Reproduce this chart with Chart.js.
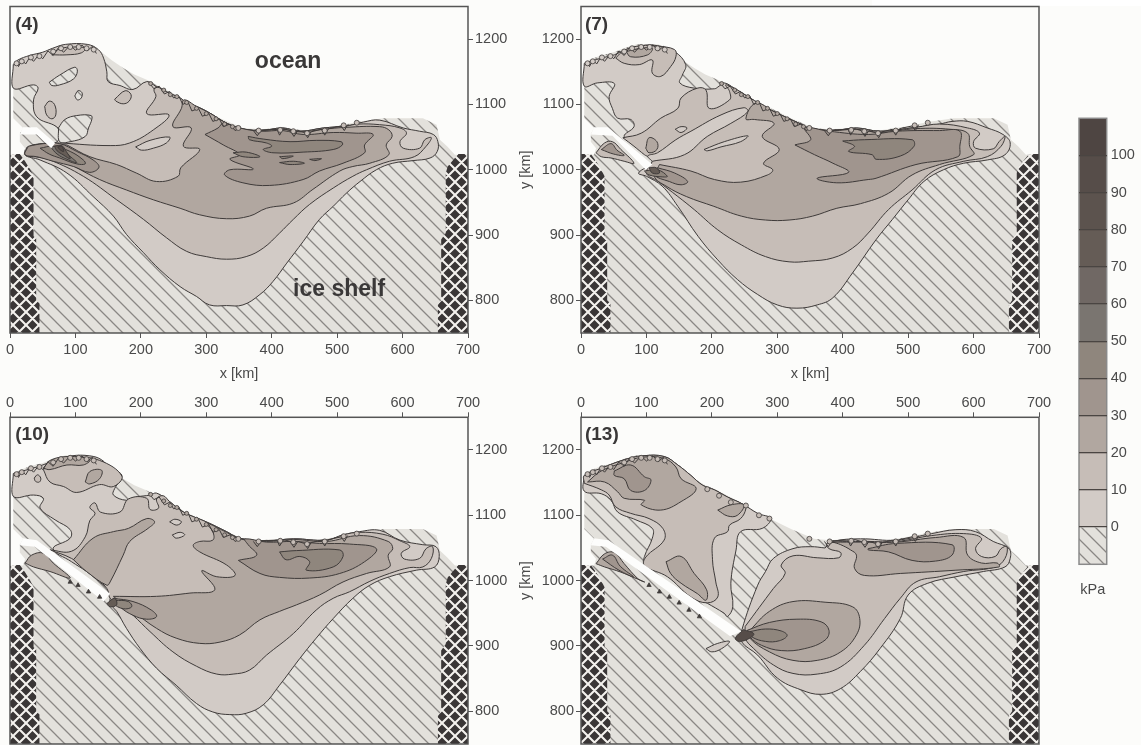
<!DOCTYPE html>
<html>
<head>
<meta charset="utf-8">
<title>kPa panels</title>
<script src="https://cdn.jsdelivr.net/npm/chart.js@4/dist/chart.umd.min.js"></script>
<style>
  html, body { margin: 0; padding: 0; background: #fcfcfa; overflow: hidden; }
  body { width: 1141px; height: 745px; position: relative; }
  canvas { position: absolute; }
  #strip { position: absolute; left: 872px; top: 0; width: 269px; height: 6px; background: #fff; }
</style>
</head>
<body>
<div id="strip"></div>
<canvas id="p1" width="540" height="390" style="left:0;top:0"></canvas>
<canvas id="p2" width="590" height="390" style="left:510px;top:0"></canvas>
<canvas id="p3" width="540" height="380" style="left:0;top:385px"></canvas>
<canvas id="p4" width="590" height="380" style="left:510px;top:385px"></canvas>
<canvas id="bar" width="81" height="520" style="left:1060px;top:100px"></canvas>
<script>
// axis ticks
const xTicks = [0, 100, 200, 300, 400, 500, 600, 700];
const yTicks = [800, 900, 1000, 1100, 1200];
const barTicks = [0, 10, 20, 30, 40, 50, 60, 70, 80, 90, 100];
const barEdges = [-10, 0, 10, 20, 30, 40, 50, 60, 70, 80, 90, 100, 110];
const bandColors = ['#d2cbc6', '#c6bdb7', '#b1a7a0', '#a0958e', '#8f867d', '#7a7570', '#706864', '#655c56', '#5c534e', '#564d49', '#4e4542'];

// shared outlines, [x km, y km]
const domain = [[5,1161],[12,1168],[30,1175],[50,1180],[65,1186],[85,1192],[118,1192],[135,1184],[155,1168],[173,1156],[190,1146],[209,1138],[228,1128],[249,1117],[268,1105],[285,1097],[303,1088],[321,1079],[340,1071],[356,1064],[380,1062],[417,1064],[455,1060],[494,1066],[535,1074],[570,1079],[631,1079],[652,1069],[657,1046],[668,1036],[680,1023],[700,1023],[700,750],[0,750],[0,1023],[20,1023],[23,1033],[15,1043],[15,1055],[20,1064],[5,1079]];
const crossLeft = [[0,1024],[15,1024],[23,1013],[31,1000],[36,990],[36,898],[40,895],[40,800],[45,795],[45,750],[0,750]];
const crossRight = [[700,1024],[685,1024],[669,1005],[666,995],[666,903],[659,893],[659,800],[654,793],[654,750],[700,750]];
const coastWest = [[10,1163],[18,1166],[32,1172],[45,1174],[66,1181],[78,1186],[92,1188],[105,1188],[117,1186],[128,1184]];
const coastMid = [[215,1132],[235,1122],[245,1115],[255,1112],[270,1103],[285,1094],[300,1086],[315,1078],[328,1070],[340,1066]];
const coastEast = [[349,1064],[380,1060],[413,1061],[433,1059],[454,1056],[481,1060],[510,1068],[530,1072]];
const coastMid13 = [[193,1140],[211,1130],[229,1120],[252,1115],[272,1100],[288,1095]];
// rough dark fringe along the shore
const jagWest = [[6,1160],[10,1166],[13,1158],[18,1168],[24,1162],[30,1172],[36,1166],[44,1176],[50,1170],[58,1182],[66,1175],[74,1187],[82,1180],[92,1191],[100,1183],[110,1191],[118,1182],[126,1189],[132,1178]];
const jagMid = [[212,1134],[220,1124],[228,1128],[236,1116],[244,1120],[250,1110],[258,1113],[264,1100],[272,1104],[278,1090],[288,1094],[294,1082],[304,1086],[310,1074],[320,1078],[326,1066],[336,1070],[344,1060],[352,1064]];
const jagEast = [[372,1060],[378,1052],[384,1061],[408,1062],[412,1053],[418,1063],[428,1060],[434,1051],[440,1060],[450,1057],[455,1049],[460,1058],[476,1062],[481,1053],[487,1063],[506,1067],[511,1060],[516,1069]];

// panel (4)
const a0 = [[5,1161],[12,1168],[30,1175],[50,1180],[65,1186],[85,1192],[118,1192],[135,1184],[143,1171],[148,1150],[150,1135],[168,1129],[188,1123],[209,1135],[224,1127],[244,1117],[260,1110],[270,1102],[285,1097],[305,1087],[326,1074],[349,1064],[382,1060],[417,1064],[443,1059],[479,1064],[514,1067],[540,1073],[565,1076],[601,1064],[626,1059],[647,1054],[654,1043],[653,1028],[642,1018],[616,1014],[585,1010],[560,1000],[535,982],[514,964],[494,944],[473,924],[448,890],[423,857],[402,829],[382,809],[356,793],[331,792],[305,793],[285,806],[260,821],[229,847],[204,873],[178,901],[158,929],[127,959],[87,995],[46,1015],[23,1023],[31,1036],[51,1040],[71,1042],[76,1056],[71,1066],[41,1081],[36,1107],[43,1125],[36,1130],[5,1125]];
const aHole1 = [[60,1134],[76,1145],[99,1157],[103,1151],[97,1139],[76,1130],[64,1129]];
const aHole2 = [[99,1113],[104,1121],[110,1118],[109,1110],[103,1107]];
const aHole3 = [[74,1064],[84,1077],[102,1083],[124,1083],[125,1077],[120,1064],[115,1051],[92,1043],[76,1043]];
const aIsle1 = [[53,1097],[60,1105],[68,1100],[70,1084],[64,1078],[56,1084]];
const aIsle2 = [[160,1108],[176,1121],[185,1115],[182,1105],[173,1101],[162,1105]];
const aTop = [[64,1176],[76,1185],[97,1188],[115,1186],[109,1179],[87,1176]];
const a10 = [[76,1041],[153,1037],[183,1041],[219,1061],[243,1084],[209,1086],[223,1112],[220,1122],[224,1127],[244,1117],[260,1110],[270,1102],[285,1097],[305,1087],[326,1074],[349,1064],[382,1060],[417,1064],[443,1059],[479,1064],[514,1067],[532,1070],[565,1069],[596,1064],[606,1056],[596,1043],[601,1033],[626,1033],[634,1046],[644,1049],[636,1036],[618,1020],[580,1013],[545,1000],[524,990],[494,972],[458,947],[433,924],[412,903],[387,880],[361,867],[331,863],[300,867],[270,875],[239,896],[204,924],[163,954],[112,990],[61,1015],[31,1023],[25,1033],[31,1036],[51,1040]];
const aLens = [[192,1035],[214,1045],[244,1050],[239,1041],[219,1033],[201,1030]];
const a20 = [[87,1038],[122,1020],[163,1008],[193,995],[224,982],[257,990],[261,1003],[290,1031],[265,1036],[277,1064],[249,1066],[262,1094],[266,1107],[285,1097],[305,1087],[326,1074],[349,1064],[382,1060],[417,1062],[443,1058],[479,1062],[514,1065],[565,1066],[579,1061],[584,1051],[575,1038],[579,1023],[550,1010],[524,1005],[504,998],[463,970],[433,949],[392,941],[366,929],[331,925],[290,931],[260,941],[219,954],[178,969],[137,985],[102,1003],[71,1020],[36,1020],[23,1023],[28,1035],[51,1039]];
const a30 = [[298,1054],[318,1064],[326,1071],[351,1064],[382,1059],[417,1060],[448,1054],[494,1057],[529,1056],[555,1054],[542,1038],[542,1026],[509,1010],[473,998],[448,985],[397,976],[356,980],[328,992],[336,1000],[372,1001],[336,1016],[351,1023],[326,1038]];
const a40 = [[364,1051],[387,1047],[428,1043],[468,1045],[506,1043],[508,1038],[494,1031],[448,1027],[402,1026],[387,1031],[400,1036],[392,1041],[366,1046]];
const aSlit1 = [[412,1020],[433,1021],[417,1017]];
const aSlit2 = [[412,1011],[433,1013],[450,1010],[428,1008]];
const aSlit3 = [[458,1016],[476,1017],[466,1014]];
const aSlit4 = [[341,1026],[361,1027],[382,1020],[356,1020]];
const aFan30 = [[28,1036],[51,1040],[76,1040],[102,1028],[127,1015],[136,1004],[122,996],[97,1005],[66,1013],[41,1020],[23,1023]];
const aFan40 = [[46,1033],[66,1036],[92,1028],[112,1015],[115,1009],[102,1009],[76,1018],[60,1024]];
const aFan50 = [[62,1035],[76,1036],[89,1023],[102,1011],[87,1016],[72,1024]];
const aFan60 = [[68,1036],[79,1037],[86,1028],[92,1017],[81,1023],[72,1029]];
const aFan80 = [[73,1035],[79,1036],[82,1028],[76,1031]];
const aRift = [[20,1065],[41,1065],[69,1041],[63,1033],[41,1054],[15,1054]];

// panel (7)
const b0 = [[5,1163],[31,1171],[51,1176],[66,1183],[92,1190],[117,1190],[143,1181],[160,1161],[155,1145],[151,1133],[173,1125],[204,1124],[211,1128],[219,1133],[234,1125],[255,1112],[275,1100],[295,1089],[316,1079],[338,1069],[348,1064],[385,1060],[421,1064],[457,1059],[512,1065],[548,1070],[567,1074],[591,1074],[621,1064],[645,1054],[656,1041],[648,1023],[621,1015],[585,1010],[554,1000],[524,982],[500,954],[476,924],[451,893],[415,842],[385,804],[361,793],[330,788],[300,793],[270,809],[239,832],[209,862],[179,898],[148,944],[124,975],[100,990],[88,995],[109,1012],[97,1026],[87,1036],[66,1051],[81,1066],[76,1077],[56,1079],[48,1094],[43,1112],[51,1132],[25,1133],[5,1128]];
const bTop10 = [[53,1171],[66,1163],[89,1161],[109,1168],[109,1148],[122,1143],[137,1158],[145,1173],[143,1184],[117,1189],[92,1190],[66,1183]];
const bTop20 = [[69,1181],[92,1186],[109,1186],[102,1176],[76,1173]];
const b10 = [[64,1049],[92,1056],[122,1079],[148,1094],[153,1110],[178,1125],[191,1122],[196,1094],[227,1107],[227,1120],[221,1130],[234,1125],[255,1112],[275,1100],[295,1089],[316,1079],[338,1069],[348,1064],[385,1060],[421,1064],[457,1059],[512,1065],[548,1070],[591,1064],[609,1056],[600,1043],[603,1033],[630,1032],[639,1043],[648,1051],[642,1036],[621,1020],[585,1013],[542,1000],[506,969],[470,939],[439,903],[415,880],[385,865],[348,860],[318,859],[282,867],[245,885],[209,908],[173,939],[148,959],[118,982],[100,995],[109,1015],[97,1023],[81,1036]];
const bTongue = [[109,1013],[158,1023],[193,1051],[229,1071],[255,1089],[249,1095],[214,1084],[168,1059],[145,1046],[117,1026],[102,1021]];
const bIsle1 = [[144,1062],[153,1066],[162,1064],[153,1057]];
const bIsle2 = [[99,1033],[104,1049],[116,1043],[116,1031],[104,1026]];
const bLens = [[188,1031],[219,1043],[255,1052],[244,1043],[214,1035],[193,1029]];
const b20 = [[120,1008],[168,998],[204,985],[244,981],[285,992],[293,1000],[279,1010],[303,1031],[277,1051],[295,1071],[265,1077],[252,1078],[267,1102],[295,1089],[316,1079],[338,1069],[348,1064],[385,1060],[421,1062],[457,1057],[512,1063],[564,1062],[591,1056],[594,1036],[600,1023],[548,1008],[506,992],[470,964],[427,948],[391,941],[354,929],[318,923],[282,923],[245,929],[203,944],[161,959],[130,975],[112,990]];
const b30 = [[327,1038],[351,1046],[342,1064],[379,1059],[439,1054],[482,1059],[548,1060],[579,1059],[579,1036],[576,1020],[512,1008],[451,987],[439,985],[391,980],[361,987],[409,996],[385,1010],[357,1023]];
const b40 = [[400,1044],[433,1046],[506,1046],[509,1036],[488,1021],[451,1016],[445,1023],[409,1028],[418,1036]];
const bLobe = [[23,1026],[36,1041],[48,1043],[61,1031],[81,1010],[66,1013],[46,1018],[31,1020]];
const bLobe30 = [[31,1031],[46,1040],[55,1030],[66,1022],[50,1024]];
const bFan30 = [[117,1003],[143,995],[163,982],[153,977],[135,982],[112,992]];
const bFan40 = [[97,998],[117,1000],[132,990],[125,989],[104,992]];
const bFan70 = [[104,1003],[115,1003],[120,995],[109,995]];
const bRift = [[20,1065],[41,1065],[109,1008],[99,1000],[48,1052],[15,1054]];

// panel (10)
const c0 = [[5,1164],[41,1174],[69,1184],[94,1191],[122,1191],[140,1185],[153,1172],[171,1161],[160,1141],[158,1131],[178,1123],[193,1128],[214,1131],[224,1134],[244,1121],[265,1105],[300,1090],[331,1075],[351,1065],[392,1061],[433,1064],[484,1062],[509,1070],[534,1075],[565,1077],[596,1062],[631,1055],[651,1052],[656,1037],[649,1021],[621,1016],[580,1006],[550,993],[524,973],[494,942],[468,912],[443,881],[412,840],[387,810],[361,797],[336,795],[310,799],[285,812],[254,840],[224,866],[199,896],[178,927],[163,953],[153,965],[153,982],[137,998],[117,1014],[94,1029],[66,1049],[92,1065],[92,1078],[69,1093],[46,1111],[51,1126],[36,1131],[5,1129]];
const cTop10 = [[51,1170],[61,1151],[82,1144],[102,1135],[137,1147],[158,1144],[171,1160],[137,1184],[94,1189],[69,1183]];
const cTop20 = [[51,1172],[63,1185],[94,1190],[122,1185],[112,1177],[87,1177],[61,1170]];
const cBlob = [[115,1151],[122,1167],[140,1169],[137,1156],[122,1148]];
const cDot = [[37,1157],[42,1162],[47,1157],[45,1151],[39,1152]];
const c10 = [[61,1047],[94,1045],[115,1067],[122,1092],[130,1103],[122,1112],[130,1119],[138,1105],[168,1105],[181,1125],[209,1126],[214,1109],[227,1111],[224,1125],[234,1130],[244,1121],[265,1105],[300,1090],[331,1075],[351,1065],[392,1061],[433,1064],[484,1062],[509,1070],[534,1074],[570,1071],[596,1061],[611,1052],[598,1042],[603,1033],[626,1034],[636,1049],[646,1052],[644,1034],[631,1021],[611,1020],[580,1011],[550,999],[519,983],[494,973],[468,955],[433,919],[392,886],[366,863],[341,857],[316,857],[285,869],[249,891],[214,922],[188,947],[163,968],[153,973],[148,988],[122,1014],[94,1034]];
const cIsle1 = [[244,1090],[252,1094],[262,1090],[255,1085]];
const cIsle2 = [[248,1070],[260,1074],[267,1070],[254,1065]];
const c20 = [[158,976],[224,976],[275,981],[313,986],[293,1015],[316,1006],[344,1008],[331,1024],[290,1044],[280,1054],[290,1060],[310,1062],[310,1075],[300,1088],[331,1074],[351,1064],[392,1060],[433,1063],[484,1060],[534,1069],[578,1060],[585,1049],[578,1039],[580,1021],[545,1011],[509,998],[473,978],[438,963],[412,953],[382,940],[351,917],[321,906],[290,904],[254,912],[224,927],[188,953],[168,968]];
const cTongue = [[97,1032],[127,1065],[158,1075],[181,1080],[209,1095],[221,1090],[211,1080],[183,1060],[173,1039],[153,998],[148,993],[117,1014]];
const c30 = [[349,1031],[377,1039],[364,1055],[359,1064],[392,1059],[433,1060],[473,1057],[519,1056],[560,1049],[542,1029],[504,1011],[458,1004],[412,1005],[382,1011]];
const c40 = [[412,1044],[438,1046],[504,1047],[509,1037],[494,1021],[453,1016],[458,1029],[443,1037],[422,1032]];
const cLobe = [[23,1027],[33,1039],[51,1042],[66,1027],[92,1004],[61,1014],[36,1021]];
const cFan30 = [[158,973],[188,968],[216,955],[224,945],[209,941],[188,947],[168,960]];
const cFan40 = [[160,970],[181,968],[186,960],[173,957],[158,965]];
const cFan70 = [[148,965],[160,973],[163,963],[153,960]];
const cRift = [[20,1065],[41,1062],[153,980],[143,968],[38,1052],[15,1054]];
const cMarks = [[92,998],[104,993],[120,983],[137,975]];

// panel (13)
const dWest0 = [[5,1161],[31,1172],[66,1185],[94,1191],[127,1190],[148,1177],[168,1161],[186,1146],[204,1139],[224,1128],[249,1116],[270,1103],[290,1095],[277,1080],[244,1075],[237,1047],[229,996],[232,960],[224,945],[219,950],[168,981],[132,1011],[97,1026],[97,1037],[109,1065],[109,1080],[84,1093],[56,1105],[46,1123],[31,1133],[5,1137]];
const dWest10 = [[5,1149],[31,1139],[43,1131],[53,1113],[76,1103],[104,1095],[125,1080],[127,1062],[99,1036],[97,1023],[132,1006],[168,975],[193,966],[209,975],[206,998],[201,1032],[204,1065],[224,1075],[227,1085],[244,1095],[252,1110],[249,1116],[224,1128],[204,1139],[186,1146],[168,1161],[148,1177],[127,1190],[94,1191],[66,1185],[31,1172],[5,1161]];
const dWest20 = [[10,1151],[36,1151],[56,1136],[66,1126],[97,1123],[92,1116],[122,1108],[153,1121],[176,1141],[153,1156],[145,1174],[127,1187],[94,1189],[66,1181],[31,1168]];
const dWest30 = [[51,1168],[76,1177],[97,1159],[107,1154],[97,1138],[76,1138],[66,1156],[51,1161]];
const dBlob = [[130,1029],[153,1037],[173,1011],[192,986],[191,970],[178,980],[153,996],[137,1011]];
const dBlob2 = [[209,1108],[229,1116],[249,1116],[239,1100],[224,1099]];
const dEast0 = [[373,1050],[385,1060],[427,1064],[482,1062],[536,1072],[573,1078],[603,1075],[630,1060],[654,1049],[656,1034],[648,1021],[615,1014],[573,1006],[530,996],[500,978],[488,942],[457,896],[427,861],[397,835],[367,826],[336,833],[300,851],[270,886],[245,907],[246,925],[270,993],[282,1014],[294,1034],[324,1049],[351,1052]];
const dEast10 = [[251,930],[294,988],[312,1011],[306,1024],[324,1038],[361,1035],[394,1035],[397,1043],[379,1049],[376,1057],[427,1060],[482,1060],[536,1069],[585,1072],[612,1065],[603,1049],[612,1037],[633,1037],[642,1049],[651,1052],[648,1034],[633,1021],[585,1014],[548,1006],[512,998],[488,973],[464,942],[433,901],[397,868],[361,857],[324,858],[294,871],[264,896],[251,912]];
const dEast20 = [[385,1059],[427,1059],[482,1059],[542,1066],[585,1066],[591,1039],[612,1027],[636,1027],[639,1021],[573,1016],[488,1011],[433,1008],[418,1019],[421,1039],[412,1047],[397,1055]];
const dEast30 = [[439,1049],[482,1057],[567,1055],[567,1039],[542,1030],[506,1031],[470,1044],[439,1047]];
const dFan20 = [[258,924],[288,953],[324,968],[373,967],[415,960],[426,942],[421,917],[397,891],[361,878],[324,878],[288,891],[258,912]];
const dFan30 = [[254,924],[288,936],[330,941],[367,937],[379,924],[373,909],[342,896],[306,893],[276,901],[258,914]];
const dFan40 = [[258,922],[282,926],[306,923],[315,916],[303,908],[282,907],[261,914]];
const dFan90 = [[248,925],[264,919],[258,912],[242,907],[236,912]];
const dLens = [[191,896],[209,904],[227,907],[215,896],[200,891]];
const dLobe = [[23,1026],[36,1041],[51,1043],[66,1026],[87,1003],[97,998],[61,1013],[36,1021]];
const dLobe30 = [[33,1033],[48,1039],[60,1022],[80,1006],[58,1016]];
const dRift = [[20,1065],[42,1062],[245,922],[228,915],[38,1052],[15,1054]];
const dMarks = [[104,993],[120,983],[135,975],[150,966],[165,955],[181,945]];

// canvas fills
function tile(size, bg, line, width, both) {
  const t = document.createElement('canvas');
  t.width = t.height = size;
  const c = t.getContext('2d');
  c.fillStyle = bg;
  c.fillRect(0, 0, size, size);
  c.strokeStyle = line;
  c.lineWidth = width;
  c.beginPath();
  c.moveTo(-size, -size); c.lineTo(size * 2, size * 2);
  c.moveTo(-size, 0); c.lineTo(size, size * 2);
  c.moveTo(0, -size); c.lineTo(size * 2, size);
  if (both) {
    c.moveTo(size * 2, -size); c.lineTo(-size, size * 2);
    c.moveTo(size, -size); c.lineTo(-size, size);
    c.moveTo(size * 2, 0); c.lineTo(0, size * 2);
  }
  c.stroke();
  return c.createPattern(t, 'repeat');
}
const hatch = tile(14, '#e3e1dc', '#8a8784', 1.3, false);
const cross = tile(13, '#3a3636', '#f4f2ee', 2.1, true);

const lineColor = '#3f3b3a';
const toXY = pts => pts.map(p => ({ x: p[0], y: p[1] }));

function shape(pts, fill, opts) {
  const closed = pts.concat([pts[0]]);
  return Object.assign({
    data: toXY(closed),
    backgroundColor: fill,
    borderColor: lineColor,
    borderWidth: 1,
    fill: 'shape',
    tension: 0.4,
    pointRadius: 0
  }, opts || {});
}
const flat = { tension: 0, borderWidth: 0 };
const band = i => bandColors[i];

function marks(pts, color, style, size) {
  return {
    data: toXY(pts),
    showLine: false,
    pointStyle: style,
    pointRadius: size,
    pointBackgroundColor: color,
    pointBorderColor: lineColor,
    pointBorderWidth: 0.8
  };
}
function fringe(pts) {
  return { data: toXY(pts), borderColor: lineColor, borderWidth: 1, fill: false, tension: 0, pointRadius: 0 };
}

function base() {
  return [shape(domain, hatch, flat)];
}
function finish(rift) {
  return [
    shape(rift, '#fdfdfc', flat),
    shape(crossLeft, cross, flat),
    shape(crossRight, cross, flat)
  ];
}

const layers4 = base().concat([
  shape(a0, band(0)), shape(aHole1, hatch), shape(aHole2, hatch), shape(aHole3, hatch),
  shape(aIsle1, band(1)), shape(aIsle2, band(1)), shape(aTop, band(1)),
  shape(a10, band(1)), shape(aLens, band(0)), shape(a20, band(2)),
  shape(a30, band(3)), shape(a40, band(4)),
  shape(aSlit1, band(4)), shape(aSlit2, band(4)), shape(aSlit3, band(4)), shape(aSlit4, band(4)),
  shape(aFan30, band(3)), shape(aFan40, band(4)), shape(aFan50, band(5)), shape(aFan60, band(7)), shape(aFan80, band(9))
], finish(aRift), [
  fringe(jagWest), fringe(jagMid), fringe(jagEast),
  marks(coastWest, band(0), 'circle', 2.5), marks(coastMid, band(2), 'circle', 2), marks(coastEast, band(1), 'circle', 2.5)
]);

const layers7 = base().concat([
  shape(b0, band(0)), shape(bTop10, band(1)), shape(bTop20, band(2)),
  shape(b10, band(1)), shape(bTongue, band(0)), shape(bIsle1, band(0)), shape(bIsle2, band(2)), shape(bLens, band(0)),
  shape(b20, band(2)), shape(b30, band(3)), shape(b40, band(4)),
  shape(bLobe, band(1)), shape(bLobe30, band(3)),
  shape(bFan30, band(3)), shape(bFan40, band(4)), shape(bFan70, band(7))
], finish(bRift), [
  fringe(jagWest), fringe(jagMid), fringe(jagEast),
  marks(coastWest, band(0), 'circle', 2.5), marks(coastMid, band(2), 'circle', 2), marks(coastEast, band(1), 'circle', 2.5)
]);

const layers10 = base().concat([
  shape(c0, band(0)), shape(cTop10, band(1)), shape(cTop20, band(2)), shape(cBlob, band(2)), shape(cDot, band(1)),
  shape(c10, band(1)), shape(cIsle1, band(0)), shape(cIsle2, band(0)),
  shape(c20, band(2)), shape(cTongue, band(2)), shape(c30, band(3)), shape(c40, band(4)),
  shape(cLobe, band(2)),
  shape(cFan30, band(3)), shape(cFan40, band(4)), shape(cFan70, band(7))
], finish(cRift), [
  fringe(jagWest), fringe(jagMid), fringe(jagEast),
  marks(cMarks, lineColor, 'triangle', 2.5),
  marks(coastWest, band(1), 'circle', 2.5), marks(coastMid, band(2), 'circle', 2), marks(coastEast, band(1), 'circle', 2.5)
]);

const layers13 = base().concat([
  shape(dWest0, band(0)), shape(dWest10, band(1)), shape(dWest20, band(2)), shape(dWest30, band(3)),
  shape(dBlob, band(2)), shape(dBlob2, band(2)),
  shape(dEast0, band(0)), shape(dEast10, band(1)), shape(dEast20, band(2)), shape(dEast30, band(3)),
  shape(dFan20, band(2)), shape(dFan30, band(3)), shape(dFan40, band(4)), shape(dFan90, band(9)),
  shape(dLens, band(0)), shape(dLobe, band(2)), shape(dLobe30, band(3))
], finish(dRift), [
  fringe(jagWest), fringe(jagEast),
  marks(dMarks, lineColor, 'triangle', 2.5),
  marks(coastWest, band(1), 'circle', 2.5), marks(coastMid13, band(1), 'circle', 2.5), marks(coastEast, band(1), 'circle', 2.5)
]);

const tickFont = { family: 'Liberation Sans', size: 14.5 };
const tickColor = '#4a4a4a';
const axisLine = '#555555';
const plain = v => String(v);

// frame and in-plot text
const framePlugin = (notes, color) => ({
  id: 'frame',
  afterDatasetsDraw(chart) {
    const { ctx, chartArea: a, scales } = chart;
    ctx.save();
    ctx.strokeStyle = color || axisLine;
    ctx.lineWidth = 1.5;
    ctx.strokeRect(a.left, a.top, a.right - a.left, a.bottom - a.top);
    (notes || []).forEach(n => {
      ctx.font = 'bold ' + n.size + 'px "Liberation Sans"';
      ctx.fillStyle = '#3a3838';
      ctx.textAlign = n.align;
      ctx.textBaseline = 'middle';
      ctx.fillText(n.text, scales.x.getPixelForValue(n.x), scales.y.getPixelForValue(n.y));
    });
    ctx.restore();
  }
});

function panel(id, layers, cfg) {
  layers.forEach((d, i) => { d.order = layers.length - i; });
  new Chart(document.getElementById(id), {
    type: 'line',
    data: { datasets: layers },
    plugins: [framePlugin(cfg.notes)],
    options: {
      responsive: false,
      animation: false,
      events: [],
      layout: { padding: cfg.padding },
      plugins: { legend: { display: false }, tooltip: { enabled: false } },
      scales: {
        x: {
          type: 'linear', position: cfg.xPos, min: 0, max: 700,
          afterBuildTicks: s => { s.ticks = xTicks.map(v => ({ value: v })); },
          afterFit: s => { s.height = cfg.xSize; s.paddingLeft = 0; s.paddingRight = 0; },
          grid: { drawOnChartArea: false, tickLength: 5, color: axisLine },
          border: { display: false },
          ticks: { color: tickColor, font: tickFont, padding: cfg.xPad, maxRotation: 0, autoSkip: false, callback: plain },
          title: { display: cfg.xTitle, text: 'x [km]', color: tickColor, font: tickFont, padding: 0 }
        },
        y: {
          type: 'linear', position: cfg.yPos, min: 750, max: 1250,
          afterBuildTicks: s => { s.ticks = yTicks.map(v => ({ value: v })); },
          afterFit: s => { s.width = cfg.ySize; s.paddingTop = 0; s.paddingBottom = 0; },
          grid: { drawOnChartArea: false, tickLength: 5, color: axisLine },
          border: { display: false },
          ticks: { color: tickColor, font: tickFont, padding: 2, autoSkip: false, callback: plain },
          title: { display: cfg.yTitle, text: 'y [km]', color: tickColor, font: tickFont, padding: 0 }
        }
      }
    }
  });
}

panel('p1', layers4, {
  padding: { left: 10, right: 12, top: 6.5, bottom: 7 }, xPos: 'bottom', yPos: 'right', xSize: 50, ySize: 60, xPad: 3, xTitle: true, yTitle: false,
  notes: [
    { text: '(4)', x: 8, y: 1222, size: 19, align: 'left' },
    { text: 'ocean', x: 425, y: 1165, size: 23, align: 'center' },
    { text: 'ice shelf', x: 503, y: 817, size: 23, align: 'center' }
  ]
});
panel('p2', layers7, {
  padding: { left: 7, right: 61, top: 6.5, bottom: 7 }, xPos: 'bottom', yPos: 'left', xSize: 50, ySize: 64, xPad: 3, xTitle: true, yTitle: true,
  notes: [{ text: '(7)', x: 6, y: 1222, size: 19, align: 'left' }]
});
panel('p3', layers10, {
  padding: { left: 10, right: 12, top: 2.3, bottom: 21 }, xPos: 'top', yPos: 'right', xSize: 30, ySize: 60, xPad: 1, xTitle: false, yTitle: false,
  notes: [{ text: '(10)', x: 8, y: 1223, size: 19, align: 'left' }]
});
panel('p4', layers13, {
  padding: { left: 7, right: 61, top: 2.3, bottom: 21 }, xPos: 'top', yPos: 'left', xSize: 30, ySize: 64, xPad: 1, xTitle: false, yTitle: true,
  notes: [{ text: '(13)', x: 6, y: 1223, size: 19, align: 'left' }]
});

// colour bar
const barSets = barEdges.slice(0, -1).map((lo, i) => ({
  data: [[lo, barEdges[i + 1]]],
  backgroundColor: i === 0 ? hatch : bandColors[i - 1],
  barPercentage: 1,
  categoryPercentage: 1,
  grouped: false,
  borderSkipped: false
}));
new Chart(document.getElementById('bar'), {
  type: 'bar',
  data: { labels: [''], datasets: barSets },
  plugins: [framePlugin(null, '#8a8a8a')],
  options: {
    responsive: false,
    animation: false,
    events: [],
    layout: { padding: { left: 19, right: 0, top: 18.3, bottom: 21.3 } },
    plugins: { legend: { display: false }, tooltip: { enabled: false } },
    scales: {
      x: {
        afterFit: s => { s.height = 34.4; },
        grid: { display: false },
        border: { display: false },
        ticks: { display: false },
        title: { display: true, text: 'kPa', color: tickColor, font: tickFont, padding: 0 }
      },
      y: {
        position: 'right', min: -10, max: 110,
        afterBuildTicks: s => { s.ticks = barTicks.map(v => ({ value: v })); },
        afterFit: s => { s.width = 34.3; s.paddingTop = 0; s.paddingBottom = 0; },
        grid: { z: 1, color: '#4a4542', lineWidth: 1.3, tickLength: 0, drawTicks: false },
        border: { display: false },
        ticks: { color: tickColor, font: tickFont, padding: 4, autoSkip: false }
      }
    }
  }
});
</script>
</body>
</html>
